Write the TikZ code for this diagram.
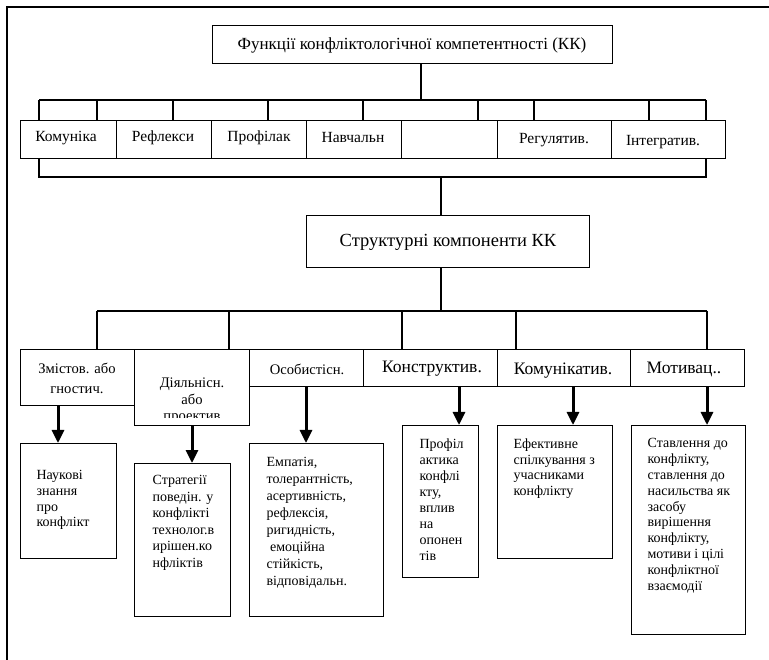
\documentclass[tikz,border=0pt]{standalone}
\usepackage{fontspec}
\setmainfont{Liberation Serif}
\usetikzlibrary{arrows.meta}

\tikzset{
    box/.style={draw, line width=1.2pt, inner sep=0pt, anchor=north west},
    arr/.style={-{Triangle[width=12pt,length=13pt]}, line width=3pt},
    desc/.style={align=left, inner sep=0pt, anchor=north west},
    small/.style={font=\fontsize{14.6}{16.5}\selectfont},
    big/.style={font=\fontsize{17.5}{20}\selectfont},
    rowtxt/.style={font=\fontsize{15.5}{18}\selectfont}
}

\begin{document}
\begin{tikzpicture}[x=1pt, y=-1pt, line width=1.2pt]
        \useasboundingbox (0,0) rectangle (769,660);
        \draw(769, 7) to (7, 7) to (7, 660);

        \node[box, minimum width=400pt, minimum height=38pt] (func) at(212, 25){};
        \node[font=\fontsize{17}{20}\selectfont] (func-t) at(412, 45){Функції конфліктологічної компетентності (КК)};
        \coordinate (fbar) at(421, 100);
        \draw(func.south -| fbar) to (fbar);
        \draw(39, 100) to (706, 100);
        \foreach \x in {39, 97, 173, 268, 363, 478, 534, 649, 706}
            \draw(\x, 100) to (\x, 120);

        \node[box, minimum width=96pt, minimum height=38pt] (komun) at(20, 120){};
        \node[box, minimum width=95pt, minimum height=38pt] (refl) at(116, 120){};
        \node[box, minimum width=95pt, minimum height=38pt] (profil) at(211, 120){};
        \node[box, minimum width=95pt, minimum height=38pt] (navch) at(306, 120){};
        \node[box, minimum width=96pt, minimum height=38pt] (empty) at(401, 120){};
        \node[box, minimum width=114pt, minimum height=38pt] (regul) at(497, 120){};
        \node[box, minimum width=114pt, minimum height=38pt] (integr) at(611, 120){};
        \node[rowtxt] (komun-t) at(66, 138){Комуніка};
        \node[rowtxt] (refl-t) at(163, 138){Рефлекси};
        \node[rowtxt] (profil-t) at(259, 138){Профілак};
        \node[rowtxt] (navch-t) at(353, 138){Навчальн};
        \node[rowtxt] (regul-t) at(554, 140){Регулятив.};
        \node[rowtxt] (integr-t) at(663, 142){Інтегратив.};

        \draw(39, 158) to (39, 177) to (706, 177) to (706, 158);
        \coordinate (sbar) at(441, 177);

        \node[box, minimum width=283pt, minimum height=52pt] (struct) at(306, 215){};
        \node[font=\fontsize{18.5}{21}\selectfont] (struct-t) at(448, 242){Структурні компоненти КК};
        \draw(sbar) to (struct.north -| sbar);
        \coordinate (cbar) at(441, 311);
        \draw(struct.south -| cbar) to (cbar);
        \draw(97, 311) to (707, 311);
        \foreach \x in {97, 229, 402, 516, 707}
            \draw(\x, 311) to (\x, 349);

        \node[box, minimum width=114pt, minimum height=56pt] (zm) at(20, 349){};
        \node[box, minimum width=115pt, minimum height=76pt] (diyal) at(134, 349){};
        \node[box, minimum width=114pt, minimum height=37pt] (osob) at(249, 349){};
        \node[box, minimum width=134pt, minimum height=37pt] (konstr) at(363, 349){};
        \node[box, minimum width=133pt, minimum height=37pt] (komunik) at(497, 349){};
        \node[box, minimum width=114pt, minimum height=37pt] (motiv) at(630, 349){};
        \node[small, align=center, font=\fontsize{14.6}{20}\selectfont] (zm-t) at(77, 378){Змістов. або\\гностич.};
        \begin{scope}
            \clip(134, 349) rectangle (249, 418);
            \node[small, align=center, anchor=north] (diyal-t) at(192, 374){Діяльнісн.\\або\\проектив};
        \end{scope}
        \node[small] (osob-t) at(307, 369){Особистісн.};
        \node[big] (konstr-t) at(432, 369){Конструктив.};
        \node[big] (komunik-t) at(563, 371){Комунікатив.};
        \node[big] (motiv-t) at(684, 369){Мотивац..};

        \node[box, minimum width=96pt, minimum height=115pt] (nauk) at(20, 443){};
        \node[box, minimum width=96pt, minimum height=153pt] (strat) at(134, 463){};
        \node[box, minimum width=134pt, minimum height=173pt] (emp) at(249, 443){};
        \node[box, minimum width=76pt, minimum height=152pt] (prof) at(402, 425){};
        \node[box, minimum width=115pt, minimum height=133pt] (efekt) at(497, 425){};
        \node[box, minimum width=114pt, minimum height=209pt] (stavl) at(631, 425){};

        \coordinate (a1) at(58, 0);
        \coordinate (a2) at(192, 0);
        \coordinate (a3) at(306, 0);
        \coordinate (a4) at(459, 0);
        \coordinate (a5) at(573, 0);
        \coordinate (a6) at(707, 0);
        \draw[arr](zm.south -| a1) to (nauk.north -| a1);
        \draw[arr](diyal.south -| a2) to (strat.north -| a2);
        \draw[arr](osob.south -| a3) to (emp.north -| a3);
        \draw[arr](konstr.south -| a4) to (prof.north -| a4);
        \draw[arr](komunik.south -| a5) to (efekt.north -| a5);
        \draw[arr](motiv.south -| a6) to (stavl.north -| a6);

        \node[desc, font=\fontsize{14}{15.7}\selectfont] (nauk-t) at(36, 470){Наукові\\знання\\про\\конфлікт};
        \node[desc, font=\fontsize{14}{16.5}\selectfont] (strat-t) at(152, 475){Стратегії\\поведін. у\\конфлікті\\технолог.в\\ирішен.ко\\нфліктів};
        \node[desc, font=\fontsize{14}{17}\selectfont] (emp-t) at(266, 457){Емпатія,\\толерантність,\\асертивність,\\рефлексія,\\ригидність,\\\ емоційна\\стійкість,\\відповідальн.};
        \node[desc, font=\fontsize{14}{16}\selectfont] (prof-t) at(419, 438){Профіл\\актика\\конфлі\\кту,\\вплив\\на\\опонен\\тів};
        \node[desc, font=\fontsize{14}{15.8}\selectfont] (efekt-t) at(513, 438){Ефективне\\спілкування з\\учасниками\\конфлікту};
        \node[desc, font=\fontsize{14}{15.8}\selectfont] (stavl-t) at(647, 438){Ставлення до\\конфлікту,\\ставлення до\\насильства як\\засобу\\вирішення\\конфлікту,\\мотиви і цілі\\конфліктної\\взаємодії};
    \end{tikzpicture}
\end{document}
